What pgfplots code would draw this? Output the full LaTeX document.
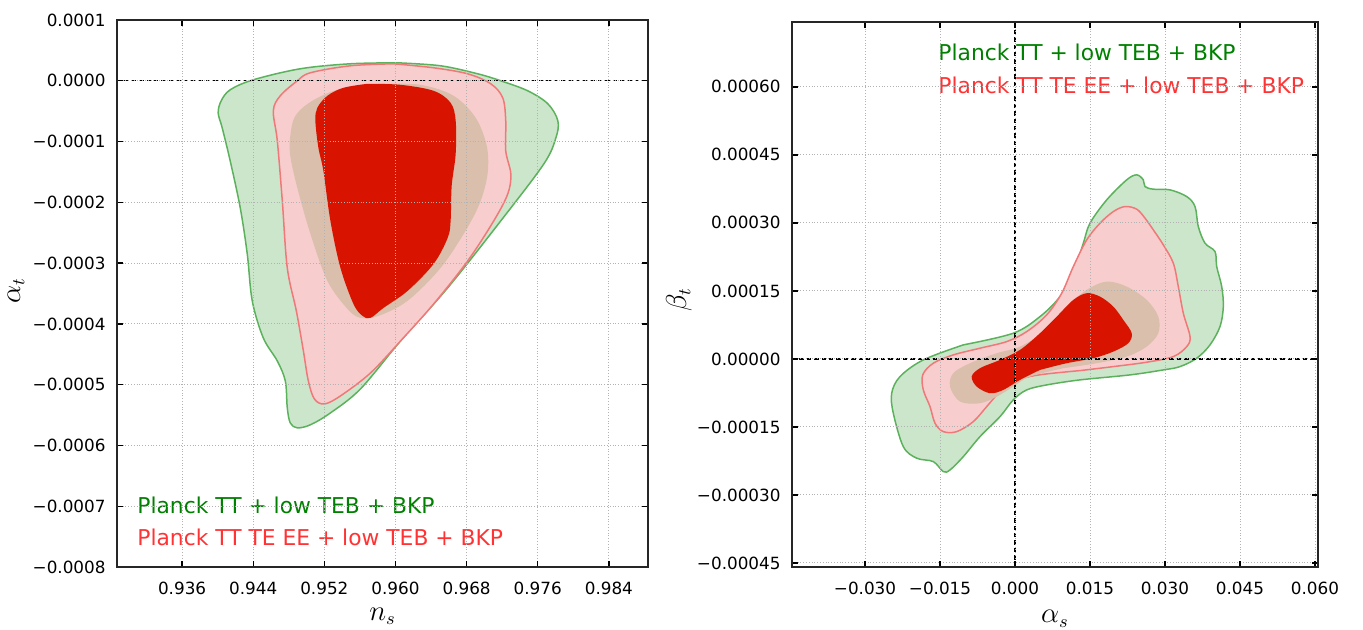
\documentclass[border=0pt]{standalone}
\usepackage{fontspec}
\setmainfont{DejaVu Sans}
\usepackage{pgfplots}
\pgfplotsset{compat=1.18}
\definecolor{gfill}{RGB}{204,230,204}
\definecolor{gline}{RGB}{92,178,92}
\definecolor{rfill}{RGB}{248,205,205}
\definecolor{rline}{RGB}{240,120,120}
\definecolor{tanc}{RGB}{217,191,172}
\definecolor{rin}{RGB}{216,20,0}
\definecolor{legg}{RGB}{0,128,0}
\definecolor{legr}{RGB}{255,51,51}
\tikzset{legt/.style={anchor=west, inner sep=0pt, font=\fontsize{10.9}{13}\selectfont}}
\pgfplotsset{
  cstyle/.style={
    scale only axis, axis on top, tick align=inside,
    scaled ticks=false,
    major tick length=3pt,
    every tick/.style={black, line width=0.7pt},
    axis line style={line width=0.9pt, black!85},
    grid=major, major grid style={densely dotted, black!30, line width=0.45pt},
    tick label style={font=\fontsize{8.4}{10}\selectfont},
    xticklabel style={yshift=-4pt},
    yticklabel style={xshift=-2.2pt},
    label style={font=\fontsize{13.5}{16}\selectfont},
  },
  gout/.style={fill=gfill, draw=gline, line width=0.75pt, smooth, tension=0.55, mark=none},
  rout/.style={fill=rfill, draw=rline, line width=0.75pt, smooth, tension=0.55, mark=none},
  tanr/.style={fill=tanc, draw=none, smooth, tension=0.55, mark=none},
  rinr/.style={fill=rin, draw=none, smooth, tension=0.55, mark=none},
  zline/.style={black, line width=0.7pt, dash pattern=on 2.2pt off 1.5pt, mark=none},
}
\begin{document}
\begin{tikzpicture}
\useasboundingbox (0,0) rectangle (681.5pt,314.5pt);
% ---------------- left panel ----------------
\begin{axis}[cstyle, at={(58.5pt,31pt)}, anchor=south west,
  width=265.5pt, height=273.5pt,
  xmin=0.92868, xmax=0.9884, ymin=-0.0008, ymax=0.0001,
  xtick={0.936,0.944,0.952,0.960,0.968,0.976,0.984},
  xticklabels={0.936,0.944,0.952,0.960,0.968,0.976,0.984},
  ytick={-0.0008,-0.0007,-0.0006,-0.0005,-0.0004,-0.0003,-0.0002,-0.0001,0,0.0001},
  yticklabels={−0.0008,−0.0007,−0.0006,−0.0005,−0.0004,−0.0003,−0.0002,−0.0001,0.0000,0.0001},
  xlabel={$n_s$}, ylabel={$\alpha_t$},
  xlabel style={at={(axis description cs:0.5,-0.09)}, anchor=center},
  ylabel style={at={(axis description cs:-0.19,0.506)}, anchor=center},
]
\addplot[gout] coordinates {
(0.96023,2.96e-5) (0.96508,2.47e-5) (0.96925,1.15e-5) (0.97184,0) (0.97488,-1.65e-5)
(0.97714,-3.79e-5) (0.97826,-6.58e-5) (0.97804,-9.38e-5) (0.97669,-1.366e-4)
(0.97184,-2.305e-4) (0.96587,-3.407e-4) (0.96057,-4.28e-4) (0.95606,-5.07e-4)
(0.95268,-5.465e-4) (0.95043,-5.66e-4) (0.94896,-5.71e-4) (0.94817,-5.63e-4)
(0.94783,-5.38e-4) (0.94761,-4.94e-4) (0.94671,-4.61e-4) (0.94513,-4.23e-4)
(0.94389,-3.62e-4) (0.94333,-2.85e-4) (0.94254,-2.09e-4) (0.94141,-1.317e-4)
(0.94051,-7.74e-5) (0.94006,-5.27e-5) (0.94040,-3.29e-5) (0.94141,-1.48e-5)
(0.94400,1.6e-6) (0.94930,1.98e-5) (0.95493,2.80e-5) (0.96023,2.96e-5)};
\addplot[rout] coordinates {
(0.95978,2.80e-5) (0.96429,2.14e-5) (0.96812,1.15e-5) (0.97071,-4.9e-6)
(0.97206,-2.80e-5) (0.97240,-6.58e-5) (0.97240,-1.152e-4) (0.97297,-1.531e-4)
(0.97263,-1.860e-4) (0.97105,-2.305e-4) (0.96812,-2.963e-4) (0.96429,-3.671e-4)
(0.96057,-4.28e-4) (0.95719,-4.807e-4) (0.95381,-5.185e-4) (0.95200,-5.317e-4)
(0.95088,-5.235e-4) (0.95020,-4.94e-4) (0.94964,-4.444e-4) (0.94885,-3.786e-4)
(0.94783,-3.078e-4) (0.94727,-1.975e-4) (0.94671,-9.88e-5) (0.94626,-4.94e-5)
(0.94704,-2.47e-5) (0.94896,0) (0.95043,1.32e-5) (0.95493,2.47e-5) (0.95978,2.80e-5)};
\addplot[tanr] coordinates {
(0.95832,-4.9e-6) (0.96282,-6.6e-6) (0.96654,-2.47e-5) (0.96902,-6.09e-5)
(0.97026,-1.07e-4) (0.97037,-1.514e-4) (0.96958,-1.975e-4) (0.96801,-2.436e-4)
(0.96508,-3.078e-4) (0.96136,-3.62e-4) (0.95809,-3.868e-4) (0.95606,-3.901e-4)
(0.95460,-3.753e-4) (0.95234,-3.292e-4) (0.95043,-2.519e-4) (0.94896,-1.761e-4)
(0.94817,-1.235e-4) (0.94817,-9.05e-5) (0.94874,-5.76e-5) (0.95065,-3.29e-5)
(0.95381,-1.32e-5) (0.95832,-4.9e-6)};
\addplot[rinr] coordinates {
(0.95685,-4.9e-6) (0.96057,-6.6e-6) (0.96429,-1.65e-5) (0.96620,-3.62e-5)
(0.96677,-6.58e-5) (0.96677,-1.202e-4) (0.96632,-1.728e-4) (0.96620,-2.305e-4)
(0.96587,-2.584e-4) (0.96429,-3.012e-4) (0.96136,-3.457e-4) (0.95865,-3.737e-4)
(0.95719,-3.901e-4) (0.95629,-3.868e-4) (0.95527,-3.671e-4) (0.95381,-3.078e-4)
(0.95268,-2.305e-4) (0.95189,-1.481e-4) (0.95133,-1.103e-4) (0.95099,-6.58e-5)
(0.95121,-4.44e-5) (0.95234,-2.47e-5) (0.95414,-1.15e-5) (0.95685,-4.9e-6)};
\addplot[zline] coordinates {(0.92868,0) (0.9884,0)};
\node[legt, text=legg] at (axis description cs:0.0377,0.1133) {Planck TT + low TEB + BKP};
\node[legt, text=legr] at (axis description cs:0.0377,0.0548) {Planck TT TE EE + low TEB + BKP};
\end{axis}
% ---------------- right panel ----------------
\begin{axis}[cstyle, at={(396pt,31pt)}, anchor=south west,
  width=263pt, height=272.5pt,
  xmin=-0.0446, xmax=0.0606, ymin=-0.000459, ymax=0.000743,
  xtick={-0.030,-0.015,0,0.015,0.030,0.045,0.060},
  xticklabels={−0.030,−0.015,0.000,0.015,0.030,0.045,0.060},
  ytick={-0.00045,-0.0003,-0.00015,0,0.00015,0.0003,0.00045,0.0006},
  yticklabels={−0.00045,−0.00030,−0.00015,0.00000,0.00015,0.00030,0.00045,0.00060},
  xlabel={$\alpha_s$}, ylabel={$\beta_t$},
  xlabel style={at={(axis description cs:0.5,-0.095)}, anchor=center},
  ylabel style={at={(axis description cs:-0.215,0.49)}, anchor=center},
]
\addplot[gout] coordinates {
(-0.01034,3.09e-5) (-0.00034,5.67e-5) (0.0050,9.33e-5) (0.0090,1.374e-4)
(0.01166,1.890e-4) (0.01366,2.552e-4) (0.0150,2.993e-4) (0.01834,3.507e-4)
(0.02234,3.949e-4) (0.02434,4.059e-4) (0.02566,3.949e-4) (0.0260,3.801e-4)
(0.02766,3.743e-4) (0.0310,3.728e-4) (0.03434,3.580e-4) (0.0360,3.360e-4)
(0.03666,2.918e-4) (0.0380,2.552e-4) (0.0400,2.367e-4) (0.04034,2.036e-4)
(0.04134,1.595e-4) (0.04166,1.154e-4) (0.0410,7.13e-5) (0.0390,3.09e-5)
(0.03634,1.5e-6) (0.0330,-1.70e-5) (0.02966,-2.43e-5) (0.0230,-3.53e-5)
(0.0130,-4.63e-5) (0.00634,-5.74e-5) (0.00234,-6.84e-5) (-0.00034,-9.04e-5)
(-0.0030,-1.273e-4) (-0.0070,-1.714e-4) (-0.01034,-2.155e-4) (-0.0130,-2.449e-4)
(-0.01434,-2.486e-4) (-0.01634,-2.265e-4) (-0.01966,-2.190e-4) (-0.02234,-1.935e-4)
(-0.02434,-1.198e-4) (-0.02466,-7.57e-5) (-0.0230,-3.90e-5) (-0.01834,-2.2e-6)
(-0.01034,3.09e-5)};
\addplot[rout] coordinates {
(0.0130,-2.58e-5) (0.00634,-3.31e-5) (0.00234,-4.04e-5) (-0.00034,-5.23e-5)
(-0.0030,-7.21e-5) (-0.00566,-1.052e-4) (-0.00834,-1.383e-4) (-0.01166,-1.604e-4)
(-0.01434,-1.604e-4) (-0.0160,-1.418e-4) (-0.0170,-1.052e-4) (-0.01834,-6.84e-5)
(-0.01846,-3.53e-5) (-0.01634,-9.5e-6) (-0.01234,8.8e-6) (-0.0070,2.36e-5)
(-0.00166,3.82e-5) (0.00234,6.02e-5) (0.00634,9.71e-5) (0.00934,1.449e-4)
(0.01166,2.036e-4) (0.01434,2.625e-4) (0.0170,2.993e-4) (0.01966,3.249e-4)
(0.0220,3.360e-4) (0.02434,3.302e-4) (0.0260,3.104e-4) (0.02766,2.846e-4)
(0.02966,2.515e-4) (0.03166,2.111e-4) (0.03266,1.595e-4) (0.03366,1.008e-4)
(0.0350,4.92e-5) (0.03434,2.71e-5) (0.03166,5.1e-6) (0.02634,-7.3e-6)
(0.01966,-1.70e-5) (0.0130,-2.58e-5)};
\addplot[tanr] coordinates {
(0.00966,-2.05e-5) (0.0030,-3.90e-5) (-0.00034,-6.11e-5) (-0.00366,-8.32e-5)
(-0.0070,-9.77e-5) (-0.0110,-9.42e-5) (-0.0130,-6.11e-5) (-0.01234,-3.15e-5)
(-0.0090,-9.5e-6) (-0.00366,1.26e-5) (0.0010,2.71e-5) (0.00634,6.40e-5)
(0.01034,1.154e-4) (0.01434,1.522e-4) (0.01834,1.705e-4) (0.02234,1.595e-4)
(0.02634,1.301e-4) (0.02866,9.33e-5) (0.02866,5.67e-5) (0.02634,2.71e-5)
(0.02234,5.1e-6) (0.01634,-9.5e-6) (0.00966,-2.05e-5)};
\addplot[rinr] coordinates {
(0.0050,-2.43e-5) (0.0010,-4.63e-5) (-0.00234,-6.84e-5) (-0.0050,-7.57e-5)
(-0.00766,-6.11e-5) (-0.00866,-3.90e-5) (-0.0070,-2.05e-5) (-0.0030,-2.2e-6)
(0.0010,1.99e-5) (0.0050,5.67e-5) (0.00834,9.33e-5) (0.01166,1.301e-4)
(0.01434,1.449e-4) (0.0170,1.374e-4) (0.01966,1.154e-4) (0.02166,8.60e-5)
(0.02334,5.67e-5) (0.02266,3.46e-5) (0.01966,1.61e-5) (0.01566,1.5e-6)
(0.01034,-9.5e-6) (0.0050,-2.43e-5)};
\addplot[zline] coordinates {(-0.0446,0) (0.0606,0)};
\addplot[zline] coordinates {(0,-0.000459) (0,0.000743)};
\node[legt, text=legg] at (axis description cs:0.2776,0.945) {Planck TT + low TEB + BKP};
\node[legt, text=legr] at (axis description cs:0.2776,0.884) {Planck TT TE EE + low TEB + BKP};
\end{axis}
\end{tikzpicture}
\end{document}
